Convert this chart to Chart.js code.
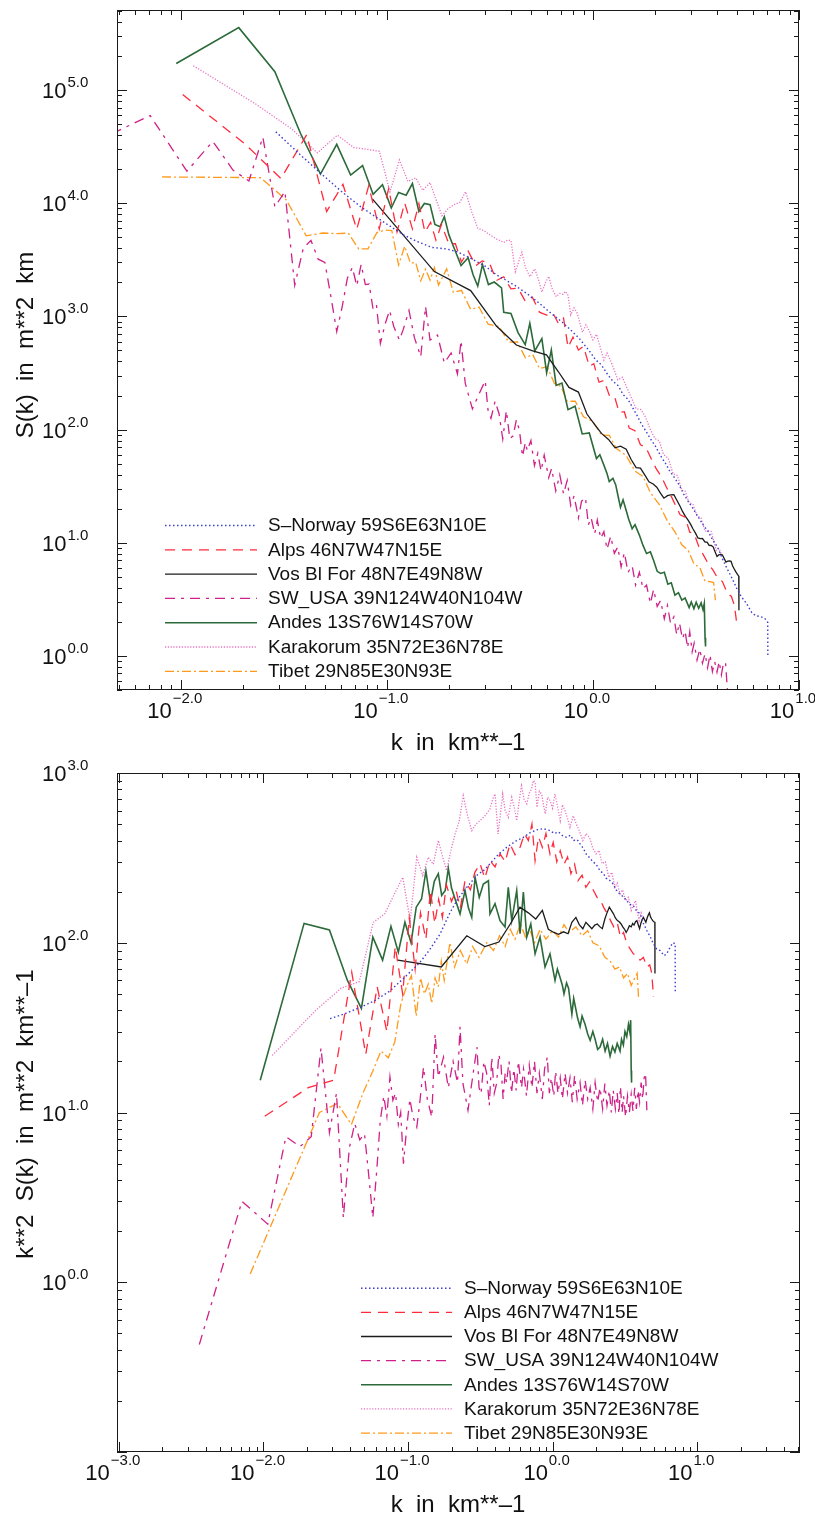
<!DOCTYPE html>
<html>
<head>
<meta charset="utf-8">
<script src="https://cdn.jsdelivr.net/npm/chart.js@4.4.1/dist/chart.umd.min.js"></script>
<style>
  html, body { margin: 0; padding: 0; background: #ffffff; }
  body { width: 815px; height: 1517px; position: relative; overflow: hidden; }
  canvas { position: absolute; left: 0; }
  #top { top: 0; }
  #bot { top: 760px; }
</style>
</head>
<body>
<canvas id="top" width="815" height="760"></canvas>
<canvas id="bot" width="815" height="757"></canvas>
<script>
// ---------------- DATA: [k (km^-1), k^2 S(k) (m^2 km^-1)] ----------------
const seriesNames = [
  'S\u2013Norway 59S6E63N10E',
  'Alps 46N7W47N15E',
  'Vos Bl For 48N7E49N8W',
  'SW_USA 39N124W40N104W',
  'Andes 13S76W14S70W',
  'Karakorum 35N72E36N78E',
  'Tibet 29N85E30N93E'
];

const norway = [[0.0289,35.7],[0.036,38],[0.048,42],[0.06,46],[0.075,52],[0.09,60],[0.105,68],[0.12,76],[0.14,90],[0.166,112],[0.195,150],[0.22,180],[0.255,212],[0.30,250],[0.34,270],[0.369,292],[0.42,330],[0.482,365],[0.55,395],[0.628,418],[0.7,445],[0.777,462],[0.86,470],[0.96,458],[1.03,440],[1.1,450],[1.18,425],[1.25,418],[1.33,430],[1.4,400],[1.48,405],[1.55,382],[1.63,360],[1.72,330],[1.8,318],[1.9,300],[2.0,290],[2.13,266],[2.25,255],[2.35,240],[2.5,232],[2.63,222],[2.75,205],[2.9,195],[3.05,188],[3.26,177],[3.45,168],[3.62,165],[3.8,155],[4.03,148],[4.25,130],[4.49,118],[4.75,108],[4.98,98.6],[5.25,92],[5.55,90],[5.9,84],[6.16,86],[6.5,94],[6.8,100],[7.05,98.6],[7.06,50]];

const alps = [[0.0102,9.5],[0.0204,14],[0.0306,15.5],[0.0408,67],[0.051,22],[0.0612,55],[0.0714,30],[0.0816,95],[0.0918,50],[0.102,140],[0.112,70],[0.122,150],[0.133,105],[0.143,203],[0.153,130],[0.163,180],[0.173,141],[0.184,220],[0.2,175],[0.215,203],[0.23,160],[0.248,232],[0.27,205],[0.29,260],[0.315,292],[0.34,240],[0.369,305],[0.4,280],[0.433,334],[0.47,300],[0.508,382],[0.55,330],[0.596,365],[0.64,438],[0.68,400],[0.72,500],[0.757,305],[0.8,420],[0.85,365],[0.9,440],[0.96,334],[1.01,390],[1.07,300],[1.13,348],[1.2,290],[1.27,320],[1.34,255],[1.42,290],[1.5,232],[1.6,250],[1.7,212],[1.8,228],[1.92,203],[2.03,185],[2.15,177],[2.27,160],[2.4,148],[2.52,135],[2.65,124],[2.8,132],[2.95,108],[3.1,115],[3.26,99],[3.44,92],[3.62,86],[3.82,84],[4.03,79],[4.25,82],[4.49,72],[4.7,74],[4.86,66],[4.99,48]];

const vos = [[0.085,79],[0.17,72],[0.255,110],[0.34,95],[0.425,101],[0.51,129],[0.595,162],[0.68,150],[0.765,138],[0.85,155],[0.935,120],[1.02,115],[1.1,112],[1.19,116],[1.28,113],[1.36,132],[1.45,141],[1.53,128],[1.62,121],[1.7,132],[1.79,126],[1.87,121],[1.96,127],[2.04,129],[2.13,124],[2.21,121],[2.3,138],[2.38,150],[2.47,162],[2.55,155],[2.64,148],[2.72,140],[2.81,135],[2.89,133],[2.98,129],[3.06,124],[3.15,120],[3.23,115],[3.32,120],[3.4,126],[3.5,124],[3.58,130],[3.66,127],[3.75,133],[3.83,135],[3.91,128],[4.0,121],[4.08,130],[4.17,137],[4.25,141],[4.34,136],[4.42,132],[4.51,140],[4.6,146],[4.68,150],[4.76,142],[4.85,138],[4.93,135],[5.02,133],[5.1,132],[5.11,66]];

const swusa = [[0.0036,0.43],[0.0071,3.0],[0.0107,2.2],[0.0143,7.2],[0.0179,6.3],[0.0214,7.2],[0.025,24],[0.0286,7.6],[0.032,13],[0.0357,2.4],[0.0393,6.2],[0.0428,8.6],[0.0464,6.9],[0.05,7.5],[0.0536,4.2],[0.0571,2.4],[0.0607,4.5],[0.0643,9],[0.068,12.5],[0.0714,9.5],[0.075,16.2],[0.0786,11.8],[0.082,13],[0.0857,8.5],[0.089,10],[0.093,5],[0.098,8.2],[0.103,12],[0.108,9.5],[0.115,8.2],[0.12,11],[0.128,18.5],[0.136,12],[0.146,9.4],[0.154,29],[0.162,16.2],[0.176,21.2],[0.19,14],[0.205,20],[0.22,15],[0.229,32],[0.24,14.8],[0.26,10.3],[0.28,16.2],[0.3,24.3],[0.31,14],[0.32,12.9],[0.335,20],[0.35,17],[0.365,11],[0.38,21.2],[0.395,13],[0.41,14.8],[0.425,22],[0.44,19],[0.455,12],[0.47,17],[0.48,15],[0.5,20],[0.52,13],[0.54,18],[0.56,13.5],[0.58,20],[0.61,14],[0.63,18],[0.66,12.5],[0.69,19],[0.72,14],[0.75,20],[0.78,13],[0.81,17],[0.85,12],[0.88,18],[0.92,21.2],[0.95,13],[0.98,16],[1.02,12.5],[1.05,17.5],[1.09,13],[1.13,16],[1.17,12],[1.22,17],[1.27,13],[1.32,16],[1.37,11.5],[1.42,16.5],[1.48,12],[1.55,15],[1.61,11],[1.68,15.5],[1.75,12],[1.82,14],[1.9,10.5],[1.97,15],[2.05,11.5],[2.13,14],[2.22,10.5],[2.3,14.8],[2.38,11],[2.47,13.5],[2.55,10],[2.63,13.5],[2.72,10.5],[2.8,13],[2.88,9.8],[2.95,14.2],[3.03,10],[3.1,12.5],[3.2,9.4],[3.3,12.5],[3.4,10],[3.5,12.8],[3.6,10.2],[3.7,14],[3.8,10.5],[3.9,13.5],[4.0,11.5],[4.1,15],[4.2,12],[4.3,16],[4.4,17],[4.49,10.3]];

const andes = [[0.0095,15.5],[0.0191,130],[0.0286,119],[0.0381,60],[0.0476,41],[0.0571,108],[0.0667,79],[0.0762,125],[0.0857,88],[0.0952,132],[0.105,100],[0.114,162],[0.124,181],[0.133,264],[0.143,173],[0.152,230],[0.162,255],[0.171,190],[0.181,203],[0.19,274],[0.2,210],[0.21,185],[0.229,148],[0.248,203],[0.262,160],[0.276,141],[0.291,243],[0.311,185],[0.332,222],[0.36,232],[0.369,148],[0.40,170],[0.433,135],[0.469,124],[0.494,212],[0.522,135],[0.565,203],[0.596,113],[0.628,199],[0.663,108],[0.707,129],[0.757,86],[0.819,108],[0.887,72],[0.96,86],[1.04,60],[1.08,70],[1.13,62],[1.17,56],[1.2,50],[1.25,58],[1.29,54],[1.33,44],[1.36,38],[1.4,47],[1.43,43],[1.49,36],[1.55,32],[1.6,37],[1.68,33],[1.75,29],[1.82,26.6],[1.9,30],[1.97,27],[2.05,23.5],[2.13,24.3],[2.22,27],[2.31,23],[2.4,25.5],[2.5,21.5],[2.6,24.5],[2.7,22.7],[2.8,25.5],[2.93,23],[3.0,27],[3.09,25],[3.17,30],[3.26,28],[3.35,33],[3.42,30],[3.47,35],[3.5,17.7],[3.52,15]];

const karakorum = [[0.0115,21.7],[0.023,40],[0.0345,54],[0.046,59],[0.0575,132],[0.069,148],[0.0805,194],[0.092,243],[0.1035,135],[0.115,319],[0.1265,249],[0.138,319],[0.1495,290],[0.162,400],[0.172,330],[0.185,266],[0.198,350],[0.212,438],[0.226,520],[0.241,735],[0.258,560],[0.276,458],[0.295,500],[0.315,524],[0.34,560],[0.369,614],[0.385,700],[0.40,752],[0.42,438],[0.452,752],[0.47,600],[0.494,548],[0.522,718],[0.545,620],[0.565,524],[0.59,700],[0.61,841],[0.635,700],[0.663,658],[0.69,760],[0.716,805],[0.736,902],[0.757,881],[0.78,628],[0.81,780],[0.84,752],[0.865,650],[0.89,574],[0.925,720],[0.96,687],[1.0,620],[1.04,752],[1.08,640],[1.13,524],[1.17,650],[1.22,600],[1.27,540],[1.32,479],[1.39,560],[1.46,500],[1.54,450],[1.62,400],[1.71,440],[1.8,418],[1.9,360],[2.0,334],[2.1,350],[2.2,292],[2.32,300],[2.45,243],[2.57,260],[2.7,212],[2.8,225],[2.93,194],[3.05,205],[3.2,177],[3.35,185],[3.5,155],[3.62,168],[3.75,177],[3.87,150],[3.97,135],[4.1,150],[4.25,135]];

const tibet = [[0.0081,1.12],[0.0163,4.5],[0.0244,10],[0.0325,11.3],[0.0406,8.5],[0.0488,13],[0.057,17.5],[0.065,23],[0.073,21],[0.081,26],[0.0894,44],[0.0975,55],[0.1056,64],[0.114,37],[0.122,62],[0.13,50],[0.138,57],[0.146,44],[0.154,62],[0.162,55],[0.17,78],[0.178,60],[0.195,100],[0.21,72],[0.23,90],[0.255,75],[0.28,95],[0.31,82],[0.35,100],[0.39,90],[0.43,110],[0.47,95],[0.51,120],[0.55,105],[0.6,129],[0.65,108],[0.7,118],[0.75,100],[0.82,120],[0.9,105],[1.0,118],[1.1,108],[1.2,128],[1.3,115],[1.45,124],[1.6,110],[1.75,118],[1.9,100],[2.1,96],[2.3,82],[2.5,78],[2.7,70],[2.9,72],[3.1,62],[3.3,66],[3.5,56],[3.7,62],[3.85,66],[3.93,48]];

// tick label decades (exponents of 10)
const topXDecades = [-2, -1, 0, 1];
const topYDecades = [0, 1, 2, 3, 4, 5];
const botXDecades = [-3, -2, -1, 0, 1];
const botYDecades = [0, 1, 2, 3];

const xTitle = 'k  in  km**\u20131';
const topYTitle = 'S(k)  in  m**2  km';
const botYTitle = 'k**2  S(k)  in  m**2  km**\u20131';

// ---------------- STYLES ----------------
const allSeries = [norway, alps, vos, swusa, andes, karakorum, tibet];
const styles = [
  { color: '#3d3dcf', dash: [1.5, 2.5], width: 1.4 },
  { color: '#ff2b3c', dash: [10, 7], width: 1.3 },
  { color: '#1c1c1c', dash: [], width: 1.3 },
  { color: '#cf2187', dash: [10, 6, 3, 6], width: 1.3 },
  { color: '#2c6a3a', dash: [], width: 1.6 },
  { color: '#e873c2', dash: [1.2, 1.6], width: 1.3 },
  { color: '#ff9a1c', dash: [9, 3, 2, 3], width: 1.3 }
];

const FONT = '"Liberation Sans", Arial, Helvetica, sans-serif';

function buildDatasets(spectrum) {
  return allSeries.map((s, i) => ({
    label: seriesNames[i],
    data: s.map(p => ({ x: p[0], y: spectrum ? p[1] / (p[0] * p[0]) : p[1] })),
    borderColor: styles[i].color,
    borderWidth: styles[i].width,
    borderDash: styles[i].dash,
    pointRadius: 0,
    tension: 0,
    fill: false
  }));
}

function expText(e) { return (e < 0 ? '\u2212' : '') + Math.abs(e).toFixed(1); }

function makePlugin(opt) {
  return {
    id: 'decor_' + opt.name,
    afterDatasetsDraw(chart) {
      const ctx = chart.ctx, a = chart.chartArea;
      const xs = chart.scales.x, ys = chart.scales.y;
      ctx.save();
      ctx.strokeStyle = '#1a1a1a';
      ctx.fillStyle = '#111';
      ctx.lineWidth = 1;
      ctx.setLineDash([]);
      ctx.strokeRect(Math.round(a.left) + 0.5, Math.round(a.top) + 0.5, Math.round(a.right - a.left) - 1, Math.round(a.bottom - a.top) - 1);
      const ticks = (scale, horiz) => {
        const lo = Math.floor(Math.log10(scale.min)), hi = Math.ceil(Math.log10(scale.max));
        for (let d = lo; d <= hi; d++) {
          for (let m = 1; m <= 9; m++) {
            const v = m * Math.pow(10, d);
            if (v < scale.min * 0.999 || v > scale.max * 1.001) continue;
            const p = Math.round(scale.getPixelForValue(v)) + 0.5;
            const len = m === 1 ? 10 : 5;
            ctx.beginPath();
            if (horiz) {
              ctx.moveTo(p, a.bottom); ctx.lineTo(p, a.bottom - len);
              ctx.moveTo(p, a.top); ctx.lineTo(p, a.top + len);
            } else {
              ctx.moveTo(a.left, p); ctx.lineTo(a.left + len, p);
              ctx.moveTo(a.right, p); ctx.lineTo(a.right - len, p);
            }
            ctx.stroke();
          }
        }
      };
      ticks(xs, true);
      ticks(ys, false);
      // tick labels
      const big = '22px ' + FONT, small = '15px ' + FONT;
      ctx.textBaseline = 'alphabetic';
      ctx.textAlign = 'left';
      opt.xDec.forEach(e => {
        const px = xs.getPixelForValue(Math.pow(10, e));
        const sup = expText(e);
        ctx.font = big; const w1 = ctx.measureText('10').width;
        ctx.font = small; const w2 = ctx.measureText(sup).width;
        const x0 = px - (w1 + 1 + w2) / 2 - 6;
        ctx.font = big; ctx.fillText('10', x0, a.bottom + 28);
        ctx.font = small; ctx.fillText(sup, x0 + w1 + 1, a.bottom + 13);
      });
      opt.yDec.forEach(e => {
        const py = ys.getPixelForValue(Math.pow(10, e));
        ctx.font = big; const w1 = ctx.measureText('10').width;
        ctx.fillText('10', 42, py + 8);
        ctx.font = small; ctx.fillText(expText(e), 42 + w1 + 1, py - 3);
      });
      // axis titles
      ctx.font = '24px ' + FONT;
      ctx.textAlign = 'center';
      ctx.fillText(xTitle, 458, a.bottom + 60);
      ctx.save();
      ctx.translate(26, opt.yTitleY);
      ctx.rotate(-Math.PI / 2);
      ctx.textBaseline = 'middle';
      ctx.fillText(opt.yTitle, 0, 0);
      ctx.restore();
      // legend
      ctx.font = '19px ' + FONT;
      ctx.textAlign = 'left';
      ctx.textBaseline = 'middle';
      seriesNames.forEach((name, i) => {
        const y = opt.legY + i * opt.legStep;
        ctx.save();
        ctx.strokeStyle = styles[i].color;
        ctx.lineWidth = styles[i].width;
        ctx.setLineDash(styles[i].dash);
        ctx.beginPath();
        ctx.moveTo(opt.legX0, y + 0.5); ctx.lineTo(opt.legX1, y + 0.5);
        ctx.stroke();
        ctx.restore();
        ctx.fillStyle = '#111';
        ctx.fillText(name, opt.legText, y + 1);
      });
      ctx.restore();
    }
  };
}

function makeChart(id, spectrum, xr, yr, pad, plugOpt) {
  return new Chart(document.getElementById(id), {
    type: 'line',
    data: { datasets: buildDatasets(spectrum) },
    options: {
      responsive: false,
      animation: false,
      devicePixelRatio: 1,
      layout: { padding: pad },
      plugins: { legend: { display: false }, title: { display: false }, tooltip: { enabled: false } },
      scales: {
        x: { type: 'logarithmic', min: xr[0], max: xr[1], display: false },
        y: { type: 'logarithmic', min: yr[0], max: yr[1], display: false }
      }
    },
    plugins: [makePlugin(plugOpt)]
  });
}

makeChart('top', true, [0.0049, 10], [0.5, 5.1e5],
  { left: 117, right: 16, top: 10, bottom: 70 },
  { name: 'top', xDec: topXDecades, yDec: topYDecades, yTitle: topYTitle, yTitleY: 345,
    legX0: 165, legX1: 257, legText: 268, legY: 525, legStep: 24.3 });

makeChart('bot', false, [0.00097, 51.5], [0.1, 1000],
  { left: 117, right: 15, top: 13, bottom: 65 },
  { name: 'bot', xDec: botXDecades, yDec: botYDecades, yTitle: botYTitle, yTitleY: 354,
    legX0: 361, legX1: 452, legText: 464, legY: 527.7, legStep: 24.15 });
</script>
</body>
</html>
